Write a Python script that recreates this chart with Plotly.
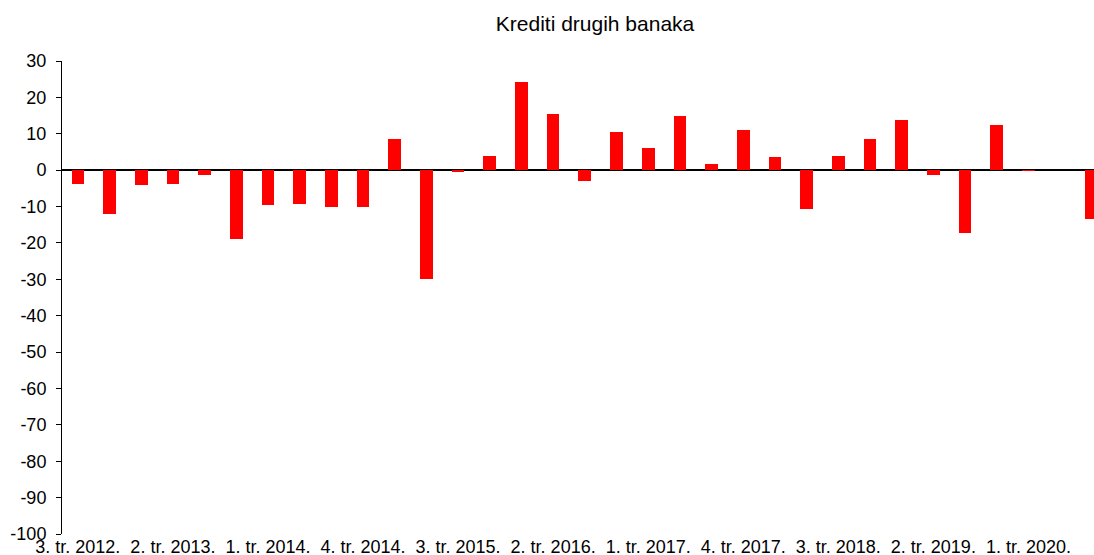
"""Bar chart: Krediti drugih banaka (quarterly change)."""

import plotly.graph_objects as go

# Quarters 3Q2012 .. 3Q2020
quarters = [
    f"{q}. tr. {y}."
    for y in range(2012, 2021)
    for q in range(1, 5)
    if (y, q) >= (2012, 3) and (y, q) <= (2020, 3)
]

values = [
    -3.8, -12.1, -4.0, -3.9, -1.4, -18.9, -9.7, -9.4, -10.1, -10.1,
    8.7, -30.0, -0.6, 3.9, 24.2, 15.3, -3.1, 10.6, 6.1, 14.8,
    1.6, 10.9, 3.5, -10.8, 3.9, 8.5, 13.9, -1.3, -17.3, 12.3,
    -0.2, None, -13.4,
]

# every third quarter gets a label
tick_labels = quarters[::3]

# y ticks, written with a plain hyphen as in the source
y_ticks = list(range(-100, 31, 10))
y_tick_labels = [str(v) for v in y_ticks]

FONT = "Liberation Sans, Arial, sans-serif"

W, H = 1094, 555

fig = go.Figure(
    go.Bar(
        x=list(range(len(quarters))),
        y=values,
        width=0.4,
        marker=dict(color="#FF0000", line=dict(width=0)),
        hovertemplate="%{customdata}: %{y}<extra></extra>",
        customdata=quarters,
    )
)

fig.update_layout(
    title=dict(
        text="Krediti drugih banaka",
        font=dict(size=21, color="black", family=FONT),
        x=0.5165,
        xanchor="center",
        xref="paper",
        y=1 - 24 / H,
        yref="container",
        yanchor="middle",
        automargin=False,
    ),
    width=W,
    height=H,
    margin=dict(l=62, r=0, t=61, b=21, autoexpand=False),
    paper_bgcolor="white",
    plot_bgcolor="white",
    font=dict(family=FONT, size=18, color="black"),
    showlegend=False,
    bargap=0,
)

fig.update_xaxes(
    range=[-0.5, 32.07],
    tickvals=list(range(0, len(quarters), 3)),
    ticktext=tick_labels,
    tickangle=0,
    showgrid=False,
    showline=False,
    zeroline=False,
    ticks="",
    automargin=False,
    tickfont=dict(size=18),
)

fig.update_yaxes(
    range=[-100, 30],
    tickvals=y_ticks,
    ticktext=y_tick_labels,
    showgrid=False,
    showline=True,
    linecolor="black",
    linewidth=1,
    ticks="outside",
    ticklen=5,
    tickcolor="black",
    ticklabelstandoff=6,
    zeroline=True,
    zerolinecolor="black",
    zerolinewidth=2,
    automargin=False,
    tickfont=dict(size=18),
)

# drop the default 8px page margin so the figure fills the window
fig.write_html(
    "out.html",
    config={"displayModeBar": False},
    post_script="document.body.style.margin='0px';"
    "document.body.style.overflow='hidden';",
)
